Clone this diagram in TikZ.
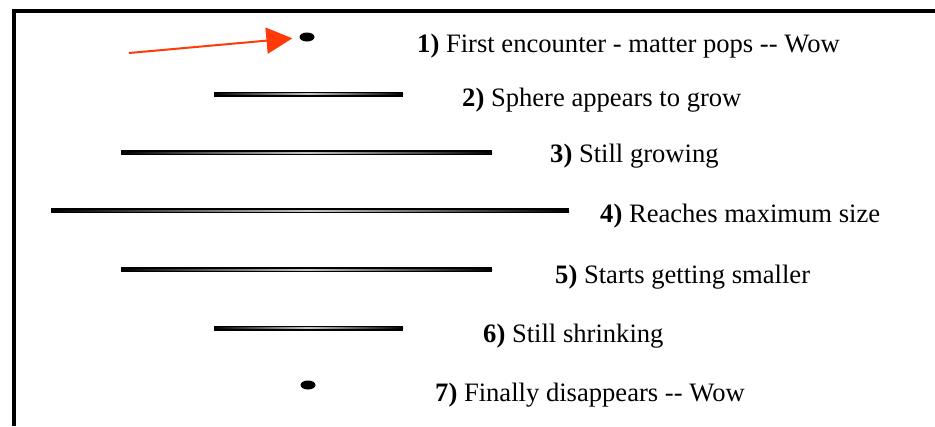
\documentclass[tikz,border=0pt]{standalone}
\usepackage{fontspec}
\setmainfont{Liberation Serif}
\usepackage{tikz}
\usetikzlibrary{arrows.meta,shapes.geometric}
\definecolor{pointred}{RGB}{255,58,8}

\begin{document}
\begin{tikzpicture}[x=1pt,y=-1pt,
    dot/.style={ellipse,fill=black,minimum width=15pt,minimum height=9pt,inner sep=0pt},
    lbl/.style={anchor=base west,inner sep=0pt,font=\fontsize{26.6}{30}\selectfont},
    glint/.style={left color=black,right color=black,middle color=gray!45}]
  \useasboundingbox (0,0) rectangle (935,426);
  \draw[line width=3.5pt] (14,426) -- (14,11) -- (935,11);
  % the sphere seen edge-on
  \node[dot] (p1) at (307,37) {};
  \fill (214,91.5) rectangle (403,96.5);   \shade[glint] (214,93.5) rectangle (403,94.7);
  \fill (121,150) rectangle (492,155);     \shade[glint] (121,152) rectangle (492,153.2);
  \fill (51,208) rectangle (569,213);      \shade[glint] (51,210) rectangle (569,211.2);
  \fill (121,267) rectangle (492,272);     \shade[glint] (121,269) rectangle (492,270.2);
  \fill (214,325.5) rectangle (403,330.5); \shade[glint] (214,327.5) rectangle (403,328.7);
  \node[dot] (p7) at (308,385) {};
  \coordinate (a0) at (129,53);
  \draw[pointred,line width=2pt,-{Triangle[length=26pt,width=26pt]},shorten >=7pt] (a0) -- (p1);
  \node[lbl] (t1) at (417,52) {\textbf{1)} First encounter - matter pops \mbox{-}\mbox{-} Wow};
  \node[lbl] (t2) at (462,106) {\textbf{2)} Sphere appears to grow};
  \node[lbl] (t3) at (550,162) {\textbf{3)} Still growing};
  \node[lbl] (t4) at (600,222) {\textbf{4)} Reaches maximum size};
  \node[lbl] (t5) at (555,283) {\textbf{5)} Starts getting smaller};
  \node[lbl] (t6) at (483,342) {\textbf{6)} Still shrinking};
  \node[lbl] (t7) at (435,401) {\textbf{7)} Finally disappears \mbox{-}\mbox{-} Wow};
\end{tikzpicture}
\end{document}
